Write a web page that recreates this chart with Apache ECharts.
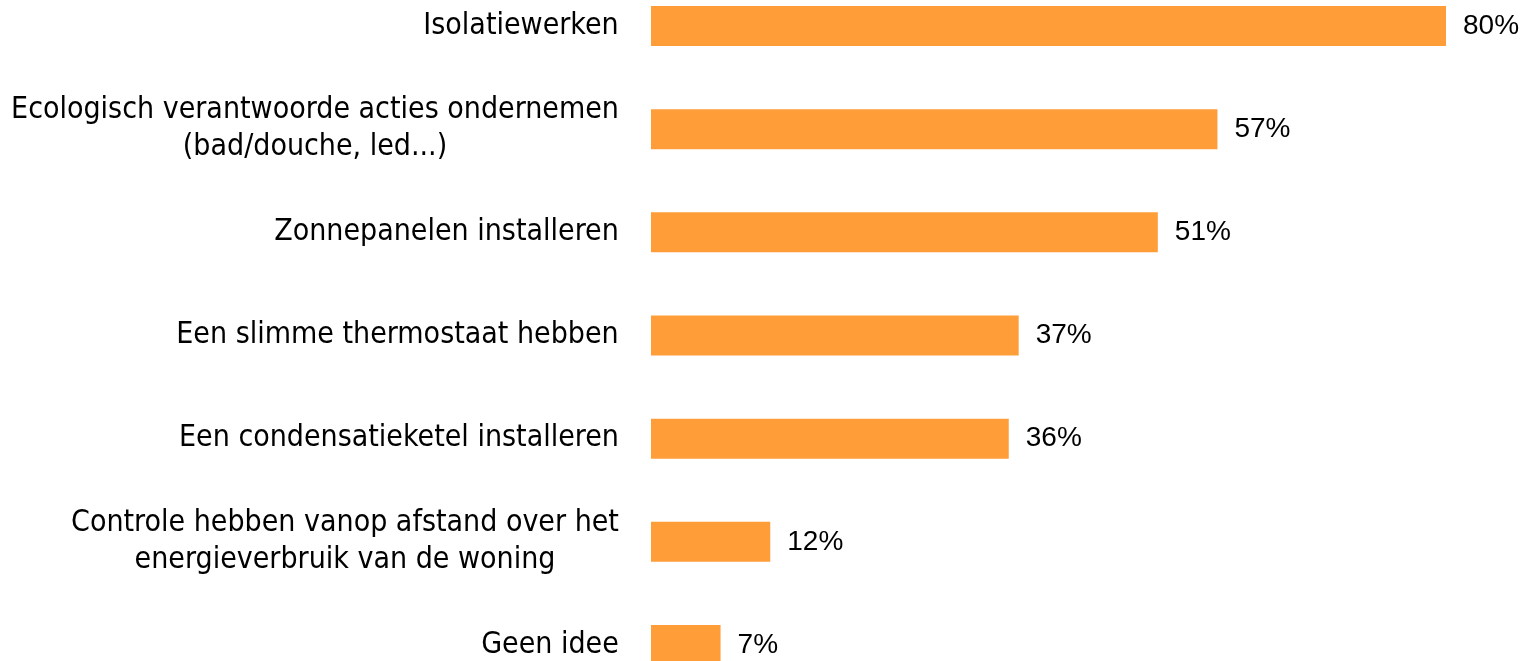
<!DOCTYPE html>
<html>
<head>
<meta charset="utf-8">
<script src="https://cdn.jsdelivr.net/npm/echarts@6/dist/echarts.min.js"></script>
<style>
html, body { margin: 0; padding: 0; background: #fff; }
#chart { width: 1534px; height: 661px; }
</style>
</head>
<body>
<div id="chart"></div>
<script>
var categories = [
    'Isolatiewerken',
    'Ecologisch verantwoorde acties ondernemen\n(bad/douche, led...)',
    'Zonnepanelen installeren',
    'Een slimme thermostaat hebben',
    'Een condensatieketel installeren',
    'Controle hebben vanop afstand over het\nenergieverbruik van de woning',
    'Geen idee'
];
var values = [80, 57, 51, 37, 36, 12, 7];

var labelFont = '"Liberation Sans Narrow", "DejaVu Sans Condensed", sans-serif';
var labelSize = 30;

// measure lines so multi-line labels can be centred inside a right-aligned block
var ctx = document.createElement('canvas').getContext('2d');
ctx.font = labelSize + 'px ' + labelFont;
var rich = {};
categories.forEach(function (c, i) {
    var w = 0;
    c.split('\n').forEach(function (line) {
        w = Math.max(w, ctx.measureText(line).width);
    });
    rich['c' + i] = {
        width: Math.ceil(w),
        align: 'center',
        fontSize: labelSize,
        lineHeight: 37,
        fontFamily: labelFont,
        color: '#000'
    };
});

var myChart = echarts.init(document.getElementById('chart'));
var option = {
    animation: false,
    grid: {
        left: 651,
        right: 88,
        top: 26,
        bottom: 16,
        containLabel: false
    },
    xAxis: {
        type: 'value',
        min: 0,
        max: 80,
        show: false
    },
    yAxis: {
        type: 'category',
        inverse: true,
        boundaryGap: false,
        data: categories,
        axisLine: { show: false },
        axisTick: { show: false },
        axisLabel: {
            margin: 32,
            align: 'right',
            formatter: function (v, i) {
                return v.split('\n').map(function (line) {
                    return '{c' + i + '|' + line + '}';
                }).join('\n');
            },
            rich: rich
        }
    },
    series: [
        {
            type: 'bar',
            data: values,
            barWidth: 40,
            clip: false,
            itemStyle: { color: '#FF9D39' },
            label: {
                show: true,
                position: 'right',
                distance: 17,
                formatter: '{c}%',
                color: '#000',
                fontSize: 28,
                fontFamily: '"Liberation Sans", sans-serif'
            }
        }
    ]
};
myChart.setOption(option, true);
</script>
</body>
</html>
